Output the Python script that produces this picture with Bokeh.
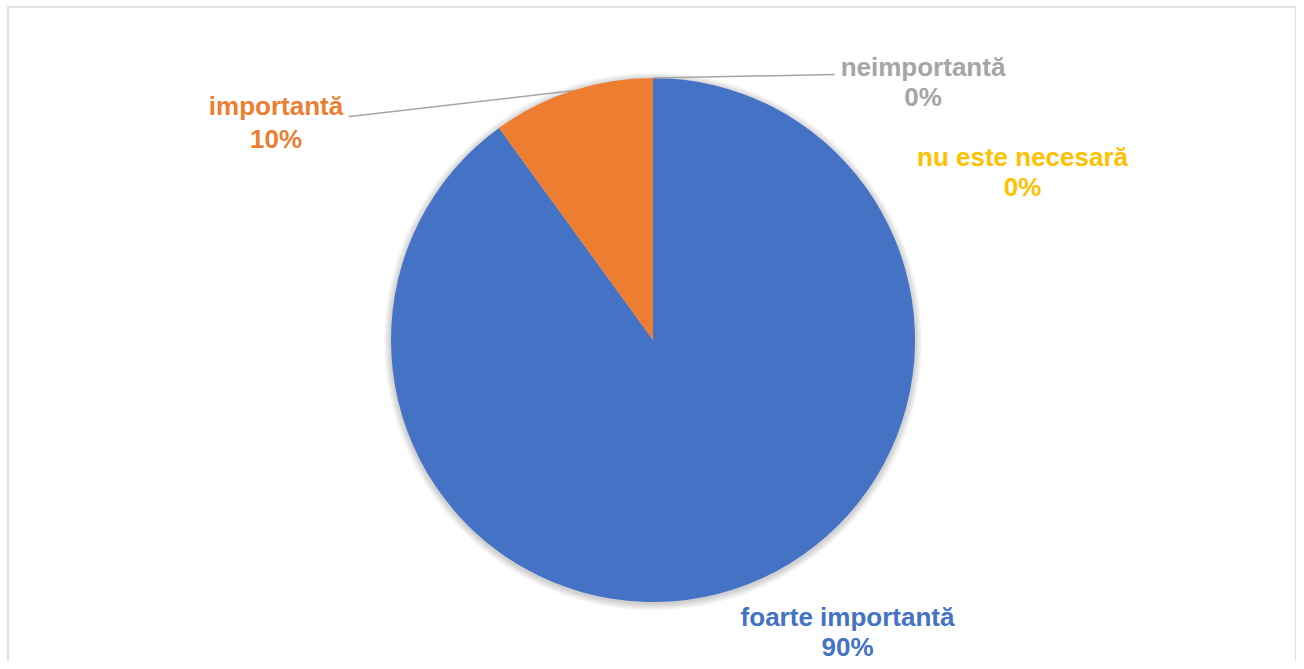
import math
from bokeh.plotting import figure
from bokeh.models import Range1d
from bokeh.core.properties import value
from bokeh.embed import file_html
from bokeh.resources import INLINE

# ---- data ----
categories = ["foarte importantă", "importantă", "neimportantă", "nu este necesară"]
values = [90, 10, 0, 0]
colors = ["#4472C4", "#ED7D31", "#A5A5A5", "#FFC000"]

# ---- layout (picture pixel coordinates, y downwards) ----
W, H = 1296, 661


def px(x):
    return x


def py(y):
    return H - y


CX, CY, R = px(652.5), py(339.5), 262.0

# label anchors: (center x, y of name line, y of percent line)
label_pos = {
    "foarte importantă": (847, 616, 646),
    "importantă": (275.5, 105, 138),
    "neimportantă": (922.5, 66, 96),
    "nu este necesară": (1022, 156, 186),
}
# leader line bend/end points, None = no leader
leader_end = {
    "foarte importantă": None,
    "importantă": [(358, 115), (348, 116)],
    "neimportantă": [(834, 74)],
    "nu este necesară": None,
}
# chart-area frame (left, top, right), open at the bottom like the cut-off reference
FRAME_L, FRAME_T, FRAME_R = 7.5, 6.5, 1295.5

p = figure(width=W, height=H, output_backend="svg", toolbar_location=None,
           x_range=Range1d(0, W), y_range=Range1d(0, H), min_border=0)
p.axis.visible = False
p.xgrid.visible = False
p.ygrid.visible = False
p.outline_line_color = None
p.background_fill_color = "white"
p.border_fill_color = "white"

p.line([px(FRAME_L), px(FRAME_L), px(FRAME_R), px(FRAME_R)],
       [py(H + 5), py(FRAME_T), py(FRAME_T), py(H + 5)],
       line_color="#D9D9D9", line_width=1.5)

# soft shadow
for k in range(1, 9):
    p.circle(x=[CX], y=[CY - 1.5], radius=R + k * 0.9, fill_color="black",
             fill_alpha=0.022, line_color=None)

total = float(sum(values))
cum = 0.0
mid_angles = {}
for cat, v, c in zip(categories, values, colors):
    c0 = cum / total
    cum += v
    c1 = cum / total
    end_a = math.pi / 2 - 2 * math.pi * c0
    start_a = math.pi / 2 - 2 * math.pi * c1
    mid_angles[cat] = (start_a + end_a) / 2
    if v > 0:
        p.wedge(x=[CX], y=[CY], radius=R, start_angle=start_a, end_angle=end_a,
                fill_color=c, line_color=None)

# leader lines
for cat in categories:
    pts = leader_end[cat]
    if not pts:
        continue
    a = mid_angles[cat]
    xs = [CX + R * math.cos(a)] + [px(x) for x, _ in pts]
    ys = [CY + R * math.sin(a)] + [py(y) for _, y in pts]
    p.line(xs, ys, line_color="#A6A6A6", line_width=1.5)

# labels
for cat, v, c in zip(categories, values, colors):
    lx, ly1, ly2 = label_pos[cat]
    pct = f"{round(100 * v / total)}%"
    for txt, ly in ((cat, ly1), (pct, ly2)):
        p.text(x=[px(lx)], y=[py(ly)], text=[txt], text_color=c,
               text_font=value("Liberation Sans"), text_font_style="bold",
               text_font_size="26px", text_align="center",
               text_baseline="alphabetic")

open("out.html", "w").write(file_html(p, INLINE))
